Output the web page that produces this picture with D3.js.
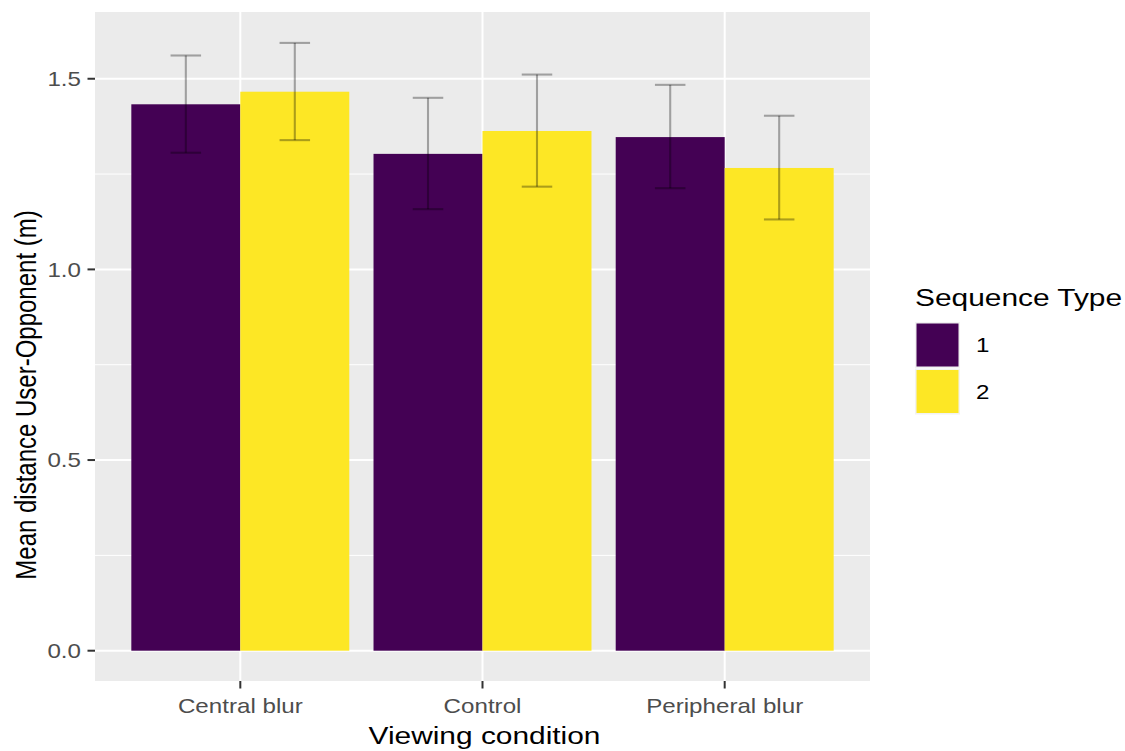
<!DOCTYPE html>
<html>
<head>
<meta charset="utf-8">
<script src="https://cdn.jsdelivr.net/npm/d3@7"></script>
<style>
  html, body { margin: 0; padding: 0; background: #ffffff; }
  svg { display: block; font-family: "Liberation Sans", Arial, sans-serif; }
</style>
</head>
<body>
<svg id="chart" width="1125" height="751"></svg>
<script>
// ---- data ----
const categories = ["Central blur", "Control", "Peripheral blur"];
const seriesNames = ["1", "2"];
const meanSeq1 = [1.433, 1.303, 1.347];
const meanSeq2 = [1.466, 1.363, 1.266];
const lowSeq1  = [1.306, 1.158, 1.213];
const lowSeq2  = [1.339, 1.217, 1.131];
const highSeq1 = [1.561, 1.450, 1.484];
const highSeq2 = [1.594, 1.511, 1.403];
const yTicks = [0, 0.5, 1.0, 1.5];
const yMinor = [0.25, 0.75, 1.25];
const colors = ["#440154", "#FDE725"];
const xTitle = "Viewing condition";
const yTitle = "Mean distance User-Opponent (m)";
const legendTitle = "Sequence Type";

const rows = [];
categories.forEach((c, i) => {
  rows.push({cat: c, s: "1", v: meanSeq1[i], lo: lowSeq1[i], hi: highSeq1[i]});
  rows.push({cat: c, s: "2", v: meanSeq2[i], lo: lowSeq2[i], hi: highSeq2[i]});
});

// ---- layout ----
const SX = 1.22; // horizontal text stretch seen in the reference
const panel = {left: 95, right: 870, top: 12, bottom: 681};

const svg = d3.select("#chart");

const x = d3.scaleBand().domain(categories)
  .range([panel.left, panel.right]).paddingInner(0.1).paddingOuter(0.15);
const xInner = d3.scaleBand().domain(seriesNames).range([0, x.bandwidth()]).padding(0);
const y = d3.scaleLinear().domain([0, 1.5]).range([650.7, 78.75]);
const color = d3.scaleOrdinal().domain(seriesNames).range(colors);

function stext(g, px, py, str, opts) {
  const t = g.append("text")
    .attr("transform", `translate(${px},${py}) scale(${opts.sx || SX},1)` + (opts.rotate ? ` rotate(${opts.rotate})` : ""))
    .attr("text-anchor", opts.anchor || "start")
    .attr("font-size", opts.size)
    .attr("fill", opts.fill || "#000");
  if (opts.dy) t.attr("dy", opts.dy);
  t.text(str);
  return t;
}

// panel background
svg.append("rect")
  .attr("x", panel.left).attr("y", panel.top)
  .attr("width", panel.right - panel.left).attr("height", panel.bottom - panel.top)
  .attr("fill", "#EBEBEB");

// grid
const grid = svg.append("g");
grid.selectAll("line.minor").data(yMinor).enter().append("line")
  .attr("x1", panel.left).attr("x2", panel.right)
  .attr("y1", d => y(d)).attr("y2", d => y(d))
  .attr("stroke", "#fff").attr("stroke-width", 1);
grid.selectAll("line.major").data(yTicks).enter().append("line")
  .attr("x1", panel.left).attr("x2", panel.right)
  .attr("y1", d => y(d)).attr("y2", d => y(d))
  .attr("stroke", "#fff").attr("stroke-width", 2);
grid.selectAll("line.vmajor").data(categories).enter().append("line")
  .attr("x1", d => x(d) + x.bandwidth() / 2).attr("x2", d => x(d) + x.bandwidth() / 2)
  .attr("y1", panel.top).attr("y2", panel.bottom)
  .attr("stroke", "#fff").attr("stroke-width", 2);

// bars
svg.append("g").selectAll("rect").data(rows).enter().append("rect")
  .attr("x", d => x(d.cat) + xInner(d.s))
  .attr("width", xInner.bandwidth())
  .attr("y", d => y(d.v))
  .attr("height", d => y(0) - y(d.v))
  .attr("fill", d => color(d.s));

// error bars
const capHalf = xInner.bandwidth() * 0.28 / 2;
const eb = svg.append("g").attr("stroke", "#000").attr("stroke-opacity", 0.32).attr("stroke-width", 2.1);
rows.forEach(d => {
  const cx = x(d.cat) + xInner(d.s) + xInner.bandwidth() / 2;
  eb.append("line").attr("x1", cx).attr("x2", cx).attr("y1", y(d.lo)).attr("y2", y(d.hi));
  eb.append("line").attr("x1", cx - capHalf).attr("x2", cx + capHalf).attr("y1", y(d.hi)).attr("y2", y(d.hi));
  eb.append("line").attr("x1", cx - capHalf).attr("x2", cx + capHalf).attr("y1", y(d.lo)).attr("y2", y(d.lo));
});

// y axis ticks + labels
const yAx = svg.append("g");
yAx.selectAll("line").data(yTicks).enter().append("line")
  .attr("x1", panel.left - 7.5).attr("x2", panel.left)
  .attr("y1", d => y(d)).attr("y2", d => y(d))
  .attr("stroke", "#333333").attr("stroke-width", 2);
yTicks.forEach(t => {
  stext(yAx, panel.left - 14, y(t), d3.format(".1f")(t), {anchor: "end", size: 19.8, fill: "#4D4D4D", dy: "0.36em"});
});

// x axis ticks + labels
const xAx = svg.append("g");
xAx.selectAll("line").data(categories).enter().append("line")
  .attr("x1", d => x(d) + x.bandwidth() / 2).attr("x2", d => x(d) + x.bandwidth() / 2)
  .attr("y1", panel.bottom).attr("y2", panel.bottom + 7.5)
  .attr("stroke", "#333333").attr("stroke-width", 2);
categories.forEach(c => {
  stext(xAx, x(c) + x.bandwidth() / 2, 713, c, {anchor: "middle", size: 19.8, fill: "#4D4D4D"});
});

// axis titles
stext(svg, (panel.left + panel.right) / 2 + 2, 744, xTitle, {anchor: "middle", size: 24.5});
stext(svg, 36, 395, yTitle, {anchor: "middle", size: 24, rotate: -90, sx: 1.25});

// legend
const lg = svg.append("g");
stext(lg, 915, 306, legendTitle, {anchor: "start", size: 24.5});
seriesNames.forEach((s, i) => {
  const ky = 322 + i * 46.5;
  lg.append("rect").attr("x", 915).attr("y", ky).attr("width", 45).attr("height", 46)
    .attr("fill", "#F2F2F2");
  lg.append("rect").attr("x", 916.5).attr("y", ky + 1.5).attr("width", 42).attr("height", 43)
    .attr("fill", color(s));
  stext(lg, 976, ky + 23, s, {anchor: "start", size: 19.8, dy: "0.36em"});
});
</script>
</body>
</html>
